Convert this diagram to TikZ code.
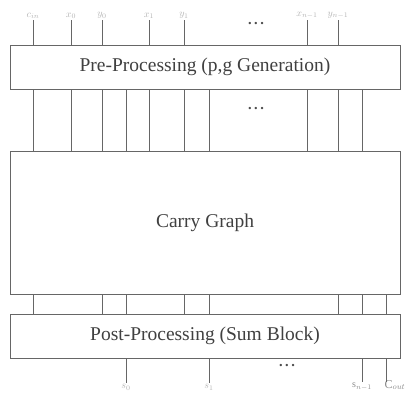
\documentclass[tikz,border=0pt]{standalone}
\usepackage{fontspec}
\setmainfont{Liberation Serif}
\tikzset{
  blockbox/.style={draw=black!60, line width=1pt, minimum width=390pt, inner sep=0pt,
    text=black!75, font=\fontsize{19.5}{22}\selectfont},
  wire/.style={draw=black!60, line width=0.8pt},
  pin/.style={text=black!30, inner sep=1pt, font=\normalsize},
  dotsnode/.style={text=black!70, font=\Large\bfseries}
}
\newcommand{\wiredots}{.\hspace{2.5pt}.\hspace{2.5pt}.}
\begin{document}
\begin{tikzpicture}[x=1pt,y=-1pt]
\useasboundingbox (0,0) rectangle (417,407);
% the three blocks, top to bottom
\node[blockbox, minimum height=44pt] (pre) at (205,67) {Pre-Processing (p,g Generation)};
\node[blockbox, minimum height=143pt] (carry) at (205,222.5) {Carry Graph};
\node[blockbox, minimum height=44pt] (post) at (205,336) {Post-Processing (Sum Block)};
% inputs
\node[pin, anchor=south] (cin) at (33,20) {$c_{in}$};
\node[pin, anchor=south] (x0) at (71,20) {$x_0$};
\node[pin, anchor=south] (y0) at (102,20) {$y_0$};
\node[pin, anchor=south] (x1) at (149,20) {$x_1$};
\node[pin, anchor=south] (y1) at (184,20) {$y_1$};
\node[pin, anchor=south] (xn) at (307,20) {$x_{n-1}$};
\node[pin, anchor=south] (yn) at (338,20) {$y_{n-1}$};
\foreach \p in {cin,x0,y0,x1,y1,xn,yn}
  \draw[wire] (\p.south) -- (\p.south |- pre.north);
\node[dotsnode] (dtop) at (256,24) {\wiredots};
% p,g signals into the carry graph
\foreach \x in {33,71,102,126,149,184,209,307,338,362}
  \draw[wire] (\x,0 |- pre.south) -- (\x,0 |- carry.north);
\node[dotsnode] (dmid) at (256,109) {\wiredots};
% carries into the sum block
\foreach \x in {33,102,126,184,209,338,362,386}
  \draw[wire] (\x,0 |- carry.south) -- (\x,0 |- post.north);
% outputs
\node[pin, anchor=north] (s0) at (126,383) {$s_0$};
\node[pin, anchor=north] (s1) at (209,383) {$s_1$};
\node[pin, anchor=north, text=black!45] (sn) at (362,382) {$\mathrm{s}_{n-1}$};
\node[pin, anchor=north, text=black!45, font=\large] (cout) at (395,379) {$\mathrm{C}_{out}$};
\foreach \p in {s0,s1,sn}
  \draw[wire] (\p.north |- post.south) -- (\p.north);
\draw[wire] (386,0 |- post.south) -- (386,382);
\node[dotsnode] (dbot) at (287,366) {\wiredots};
\end{tikzpicture}
\end{document}
